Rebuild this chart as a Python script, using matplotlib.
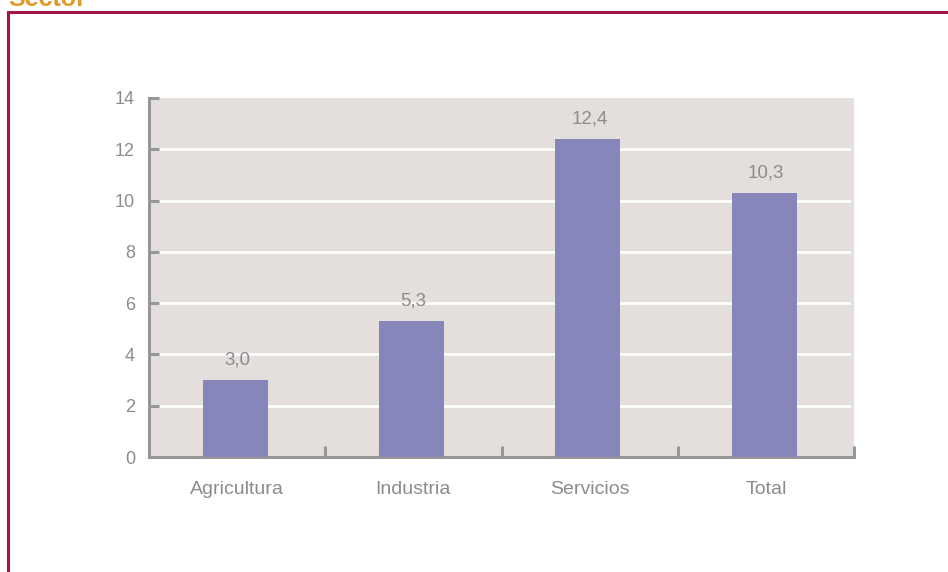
import matplotlib
matplotlib.use("Agg")
import matplotlib.pyplot as plt
from matplotlib.patches import Rectangle
from matplotlib import font_manager

categories = ["Agricultura", "Industria", "Servicios", "Total"]
values = [3.0, 5.3, 12.4, 10.3]
value_labels = ["3,0", "5,3", "12,4", "10,3"]
yticks = [0, 2, 4, 6, 8, 10, 12, 14]

names = {f.name for f in font_manager.fontManager.ttflist}
fam = ["Liberation Sans Narrow", "Liberation Sans", "DejaVu Sans"]
fam = [f for f in fam if f in names] + ["DejaVu Sans"]
plt.rcParams['font.family'] = fam

TXT = "#8c8c8c"
SP = "#979797"
W, H = 948, 572
fig = plt.figure(figsize=(W / 100, H / 100), dpi=100)

# outer frame
fig.patches.append(Rectangle((7.5 / W, -0.1), 1.2, 1 - 11.5 / H + 0.1,
                             transform=fig.transFigure, fill=False,
                             edgecolor="#a31641", linewidth=2.2))
# title, clipped at the very top as in the reference
fig.text(8 / W, 1 - 6 / H, "Sector", color="#e09a2a", fontsize=18,
         fontweight="bold", ha="left", va="baseline")

ax = fig.add_axes([149 / W, 1 - 457 / H, (854 - 149) / W, (457 - 98) / H])
ax.set_facecolor("#e4dfdd")
x = list(range(len(categories)))
ax.bar([xi - 0.01 for xi in x], values, width=0.37, color="#8786ba", zorder=3)
ax.set_xlim(-0.5, 3.5)
ax.set_ylim(0, 14)

for yv in yticks[1:-1]:
    ax.axhline(yv, xmin=0.009, xmax=0.993, color="white", linewidth=2, zorder=1)

for xi, v, lab in zip(x, values, value_labels):
    ax.annotate(lab, (xi, v), xytext=(0, 8.5), textcoords="offset points",
                ha="center", va="bottom", color=TXT, fontsize=13.5)

for s in ["top", "right"]:
    ax.spines[s].set_visible(False)
for s in ["left", "bottom"]:
    ax.spines[s].set_color(SP)
    ax.spines[s].set_linewidth(2.2)

ax.set_yticks(yticks)
ax.set_yticklabels([str(t) for t in yticks])
ax.tick_params(axis="y", direction="in", length=7, width=2.2, color=SP,
               labelcolor=TXT, labelsize=13, pad=10)

ax.set_xticks([0.5, 1.5, 2.5, 3.5])
ax.set_xticklabels([])
ax.tick_params(axis="x", direction="in", length=8, width=2.2, color=SP)
for xi, c in zip(x, categories):
    ax.annotate(c, (xi, 0), xytext=(0, -17), textcoords="offset points",
                ha="center", va="top", color=TXT, fontsize=14,
                annotation_clip=False)

fig.savefig("out.png", dpi=100)
